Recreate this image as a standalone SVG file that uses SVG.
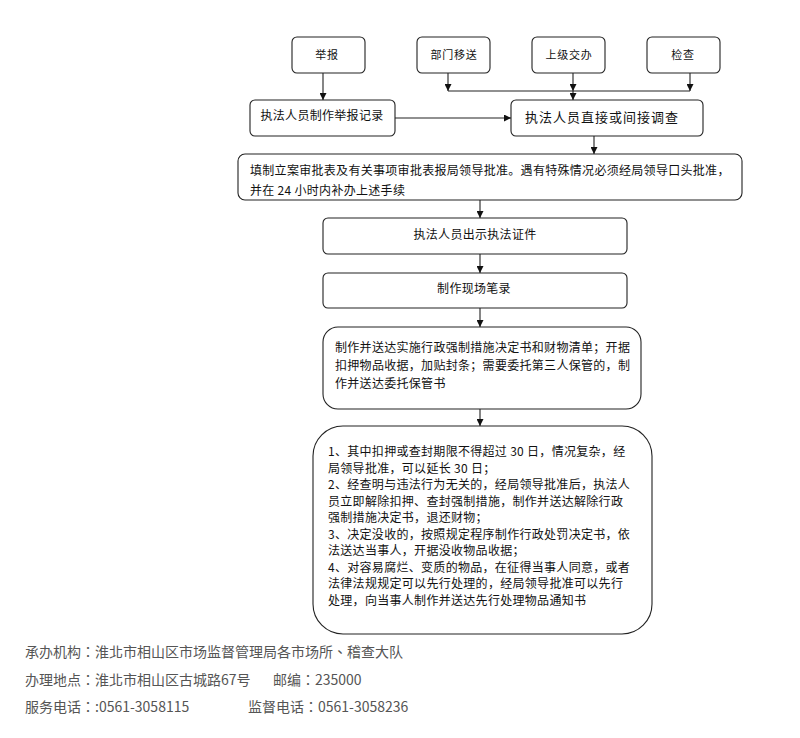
<svg xmlns="http://www.w3.org/2000/svg" width="800" height="738" viewBox="0 0 800 738">
<style>
.box{fill:#fff;stroke:#222;stroke-width:1.1}
.t{font-family:"Noto Sans CJK SC","Noto Sans",sans-serif;font-size:12px;fill:#111;letter-spacing:0.3px}
.c{text-anchor:middle}
.s{font-size:11px;letter-spacing:0.8px}
.conn line,.conn polyline{stroke:#222;stroke-width:1.1;fill:none}
.f{font-family:"Noto Sans CJK TC","Noto Sans CJK SC","Noto Sans",sans-serif;font-size:14px;fill:#555}
</style>
<defs>
<marker id="ah" viewBox="0 0 8 8" refX="8" refY="4" markerWidth="7" markerHeight="7" markerUnits="userSpaceOnUse" orient="auto">
<path d="M0,0 L8,4 L0,8 z" fill="#111"/>
</marker>
</defs>
<rect width="800" height="738" fill="#fff"/>
<g class="conn">
<line x1="323" y1="73" x2="323" y2="100" marker-end="url(#ah)"/>
<line x1="448" y1="73" x2="448" y2="91" marker-end="url(#ah)"/>
<line x1="573" y1="73" x2="573" y2="91" marker-end="url(#ah)"/>
<line x1="690" y1="73" x2="690" y2="91" marker-end="url(#ah)"/>
<line x1="448" y1="91" x2="690" y2="91"/>
<line x1="573" y1="91" x2="573" y2="100" marker-end="url(#ah)"/>
<line x1="395" y1="118" x2="511" y2="118" marker-end="url(#ah)"/>
<line x1="594" y1="136" x2="594" y2="154" marker-end="url(#ah)"/>
<line x1="480" y1="200" x2="480" y2="218" marker-end="url(#ah)"/>
<line x1="480" y1="254" x2="480" y2="273" marker-end="url(#ah)"/>
<line x1="480" y1="308" x2="480" y2="327" marker-end="url(#ah)"/>
<line x1="480" y1="409" x2="480" y2="426" marker-end="url(#ah)"/>
</g>
<g id="n-jubao"><rect class="box" x="292" y="37" width="73" height="36" rx="5"/><text class="t c s" x="327" y="59">举报</text></g>
<g id="n-bumen"><rect class="box" x="417" y="37" width="73" height="36" rx="5"/><text class="t c s" x="454" y="59">部门移送</text></g>
<g id="n-shangji"><rect class="box" x="532" y="37" width="73" height="36" rx="5"/><text class="t c s" x="569" y="59">上级交办</text></g>
<g id="n-jiancha"><rect class="box" x="647" y="37" width="73" height="36" rx="5"/><text class="t c s" x="683" y="59">检查</text></g>
<g id="n-jilu"><rect class="box" x="250" y="100" width="145" height="36" rx="5"/><text class="t c" x="322" y="119.5">执法人员制作举报记录</text></g>
<g id="n-diaocha"><rect class="box" x="511" y="100" width="192" height="36" rx="5"/><text class="t c" x="602" y="121.5" style="font-size:13px;letter-spacing:1px">执法人员直接或间接调查</text></g>
<g id="n-lian"><rect class="box" x="238" y="154" width="504" height="46" rx="7"/>
<text class="t" x="250" y="174.5">填制立案审批表及有关事项审批表报局领导批准。遇有特殊情况必须经局领导口头批准，</text>
<text class="t" x="250" y="194.5">并在 24 小时内补办上述手续</text></g>
<g id="n-zhengjian"><rect class="box" x="323" y="218" width="304" height="36" rx="5"/><text class="t c" x="475" y="238.5">执法人员出示执法证件</text></g>
<g id="n-bilu"><rect class="box" x="323" y="273" width="304" height="35" rx="5"/><text class="t c" x="474" y="292.5">制作现场笔录</text></g>
<g id="n-cuoshi"><rect class="box" x="323" y="327" width="318" height="82" rx="15"/>
<text class="t" x="335" y="351.5">制作并送达实施行政强制措施决定书和财物清单；开据</text>
<text class="t" x="335" y="369.5">扣押物品收据，加贴封条；需要委托第三人保管的，制</text>
<text class="t" x="335" y="387.5">作并送达委托保管书</text></g>
<g id="n-chuli"><rect class="box" x="313" y="426" width="339" height="208" rx="30"/>
<text class="t" x="328" y="456">1、其中扣押或查封期限不得超过 30 日，情况复杂，经</text>
<text class="t" x="328" y="472.5">局领导批准，可以延长 30 日；</text>
<text class="t" x="328" y="489">2、经查明与违法行为无关的，经局领导批准后，执法人</text>
<text class="t" x="328" y="505.5">员立即解除扣押、查封强制措施，制作并送达解除行政</text>
<text class="t" x="328" y="522">强制措施决定书，退还财物；</text>
<text class="t" x="328" y="538.5">3、决定没收的，按照规定程序制作行政处罚决定书，依</text>
<text class="t" x="328" y="555">法送达当事人，开据没收物品收据；</text>
<text class="t" x="328" y="571.5">4、对容易腐烂、变质的物品，在征得当事人同意，或者</text>
<text class="t" x="328" y="588">法律法规规定可以先行处理的，经局领导批准可以先行</text>
<text class="t" x="328" y="604.5">处理，向当事人制作并送达先行处理物品通知书</text></g>
<g id="footer">
<text class="f" x="25" y="657">承办机构：淮北市相山区市场监督管理局各市场所、稽查大队</text>
<text class="f" x="25" y="685">办理地点：淮北市相山区古城路67号</text>
<text class="f" x="273" y="685">邮编：235000</text>
<text class="f" x="25" y="712">服务电话：:0561-3058115</text>
<text class="f" x="248" y="712">监督电话：0561-3058236</text>
</g>
</svg>
